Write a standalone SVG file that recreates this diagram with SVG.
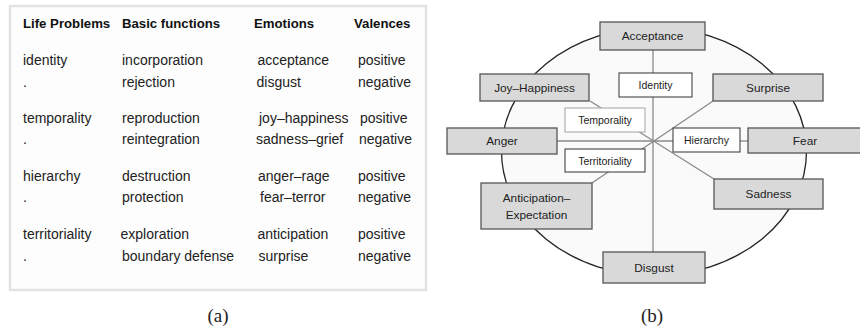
<svg xmlns="http://www.w3.org/2000/svg" width="860" height="331" viewBox="0 0 860 331">
<style>
.h{font-family:"Liberation Sans",Arial,sans-serif;font-size:13.2px;font-weight:bold;fill:#111}
.b{font-family:"Liberation Sans",Arial,sans-serif;font-size:14px;fill:#222}
.cap{font-family:"Liberation Serif","Times New Roman",serif;font-size:19px;fill:#222;text-anchor:middle}
.g rect{fill:#d9d9d9;stroke:#555;stroke-width:1.3}
.w rect{fill:#fff;stroke:#444;stroke-width:1.1}
.lg{font-family:"Liberation Sans",Arial,sans-serif;font-size:11.8px;fill:#222;text-anchor:middle;dominant-baseline:central}
.ls{font-family:"Liberation Sans",Arial,sans-serif;font-size:10.5px;fill:#222;text-anchor:middle;dominant-baseline:central}
#connectors line{stroke:#8a8a8a;stroke-width:1.3}
</style>
<rect width="860" height="331" fill="#fff"/>
<g id="table">
<rect x="10" y="6" width="416" height="284" fill="#fdfdfd" stroke="#e3e3e3" stroke-width="2.5"/>
<text class="h" x="23" y="28">Life Problems</text>
<text class="h" x="122" y="28">Basic functions</text>
<text class="h" x="254" y="28">Emotions</text>
<text class="h" x="354" y="28">Valences</text>
<text class="b" x="23" y="65">identity</text>
<text class="b" x="122" y="65">incorporation</text>
<text class="b" x="257.5" y="65">acceptance</text>
<text class="b" x="358" y="65">positive</text>
<text class="b" x="23" y="87">.</text>
<text class="b" x="122" y="87">rejection</text>
<text class="b" x="256.5" y="87">disgust</text>
<text class="b" x="358" y="87">negative</text>
<text class="b" x="23" y="123">temporality</text>
<text class="b" x="122" y="123">reproduction</text>
<text class="b" x="259" y="123">joy–happiness</text>
<text class="b" x="360" y="123">positive</text>
<text class="b" x="23" y="144">.</text>
<text class="b" x="122" y="144">reintegration</text>
<text class="b" x="256" y="144">sadness–grief</text>
<text class="b" x="359" y="144">negative</text>
<text class="b" x="23" y="181">hierarchy</text>
<text class="b" x="122" y="181">destruction</text>
<text class="b" x="258" y="181">anger–rage</text>
<text class="b" x="358" y="181">positive</text>
<text class="b" x="23" y="202">.</text>
<text class="b" x="122" y="202">protection</text>
<text class="b" x="260" y="202">fear–terror</text>
<text class="b" x="358" y="202">negative</text>
<text class="b" x="23" y="239">territoriality</text>
<text class="b" x="120.5" y="239">exploration</text>
<text class="b" x="257.5" y="239">anticipation</text>
<text class="b" x="358" y="239">positive</text>
<text class="b" x="23" y="261">.</text>
<text class="b" x="122" y="261">boundary defense</text>
<text class="b" x="258.5" y="261">surprise</text>
<text class="b" x="358" y="261">negative</text>
</g>
<text class="cap" x="218" y="322">(a)</text>
<text class="cap" x="652" y="322">(b)</text>
<ellipse id="wheel" cx="654" cy="151.5" rx="152.5" ry="124" fill="#fafafa" stroke="#222" stroke-width="1.3"/>
<g id="connectors">
<line x1="653" y1="50" x2="653" y2="252"/>
<line x1="557" y1="141" x2="673" y2="141"/>
<line x1="740" y1="141" x2="748" y2="141"/>
<line x1="590" y1="101" x2="714" y2="179"/>
<line x1="713" y1="101" x2="592" y2="183"/>
</g>
<g id="n-acceptance" class="g"><rect x="600" y="22" width="105" height="28"/><text class="lg" x="652.5" y="36">Acceptance</text></g>
<g id="n-joy" class="g"><rect x="480" y="74" width="109" height="27"/><text class="lg" x="534.5" y="87.5">Joy–Happiness</text></g>
<g id="n-surprise" class="g"><rect x="713" y="74" width="110" height="27"/><text class="lg" x="768" y="87.5">Surprise</text></g>
<g id="n-anger" class="g"><rect x="447" y="128" width="110" height="26"/><text class="lg" x="502" y="141">Anger</text></g>
<g id="n-fear" class="g"><rect x="748" y="128" width="116" height="25"/><text class="lg" x="805" y="141">Fear</text></g>
<g id="n-anticipation" class="g"><rect x="481" y="183" width="111" height="46"/><text class="lg" x="536.5" y="198">Anticipation–</text><text class="lg" x="536.5" y="215">Expectation</text></g>
<g id="n-sadness" class="g"><rect x="714" y="179" width="109" height="30"/><text class="lg" x="768.5" y="194">Sadness</text></g>
<g id="n-disgust" class="g"><rect x="603" y="252" width="102" height="31"/><text class="lg" x="654" y="267.5">Disgust</text></g>
<g id="n-identity" class="w"><rect x="619" y="73" width="73" height="24"/><text class="ls" x="655.5" y="85">Identity</text></g>
<g id="n-temporality" class="w"><rect x="565" y="108" width="80" height="24" style="stroke:#aaa"/><text class="ls" x="605" y="120">Temporality</text></g>
<g id="n-hierarchy" class="w"><rect x="673" y="128" width="67" height="24"/><text class="ls" x="706.5" y="140">Hierarchy</text></g>
<g id="n-territoriality" class="w"><rect x="565" y="149" width="80" height="23"/><text class="ls" x="605" y="160.5">Territoriality</text></g>
</svg>
